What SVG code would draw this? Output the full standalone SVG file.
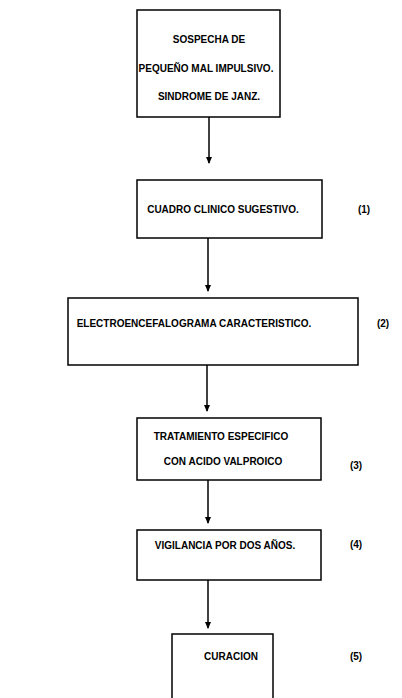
<svg xmlns="http://www.w3.org/2000/svg" width="402" height="698" viewBox="0 0 402 698">
<style>
.box{fill:#fff;stroke:#000;stroke-width:1.5}
.t{font-family:"Liberation Sans",Arial,sans-serif;font-weight:bold;font-size:10px;fill:#000;text-anchor:middle}
.n{font-family:"Liberation Sans",Arial,sans-serif;font-weight:bold;font-size:10px;fill:#000;text-anchor:middle}
.c{stroke:#000;stroke-width:1.5;fill:none;marker-end:url(#ah)}
</style>
<defs>
<marker id="ah" markerWidth="7" markerHeight="6" refX="6" refY="3" orient="auto" markerUnits="userSpaceOnUse" viewBox="0 0 7 6">
<path d="M0,0 L7,3 L0,6 Z" fill="#000"/>
</marker>
</defs>
<rect width="402" height="698" fill="#fff"/>
<g id="connectors">
<line class="c" x1="209" y1="117" x2="209" y2="163"/>
<line class="c" x1="208" y1="238" x2="208" y2="291"/>
<line class="c" x1="207" y1="365" x2="207" y2="411"/>
<line class="c" x1="208" y1="480" x2="208" y2="523"/>
<line class="c" x1="208" y1="580" x2="208" y2="628"/>
</g>
<g id="n0">
<rect class="box" x="137" y="10" width="143" height="107"/>
<text class="t" x="209" y="43">SOSPECHA DE</text>
<text class="t" x="206" y="72">PEQUEÑO MAL IMPULSIVO.</text>
<text class="t" x="209" y="100">SINDROME DE JANZ.</text>
</g>
<g id="n1">
<rect class="box" x="137" y="180" width="185" height="58"/>
<text class="t" x="223" y="213">CUADRO CLINICO SUGESTIVO.</text>
<text class="n" x="364" y="213">(1)</text>
</g>
<g id="n2">
<rect class="box" x="68" y="298" width="290" height="67"/>
<text class="t" x="194" y="327">ELECTROENCEFALOGRAMA CARACTERISTICO.</text>
<text class="n" x="383" y="327">(2)</text>
</g>
<g id="n3">
<rect class="box" x="137" y="418" width="184" height="62"/>
<text class="t" x="221" y="440">TRATAMIENTO ESPECIFICO</text>
<text class="t" x="223" y="465">CON ACIDO VALPROICO</text>
<text class="n" x="356" y="469">(3)</text>
</g>
<g id="n4">
<rect class="box" x="137" y="530" width="184" height="50"/>
<text class="t" x="225" y="549">VIGILANCIA POR DOS AÑOS.</text>
<text class="n" x="356" y="548">(4)</text>
</g>
<g id="n5">
<rect class="box" x="172" y="634" width="101" height="70"/>
<text class="t" x="231" y="660">CURACION</text>
<text class="n" x="356" y="660">(5)</text>
</g>
</svg>
